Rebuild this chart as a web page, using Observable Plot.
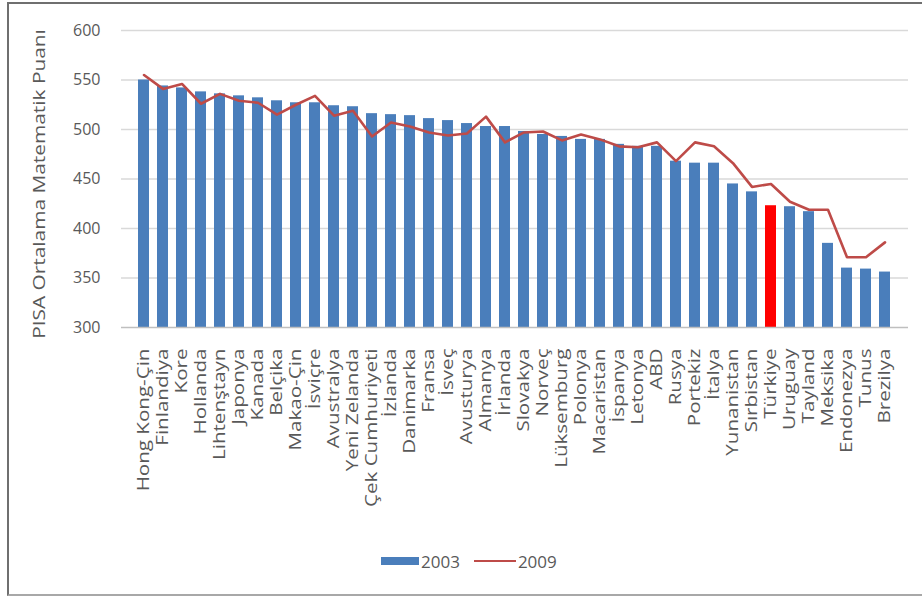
<!DOCTYPE html>
<html><head><meta charset="utf-8">
<script src="https://cdn.jsdelivr.net/npm/d3@7"></script>
<script src="https://cdn.jsdelivr.net/npm/@observablehq/plot@0.6"></script>
<style>
html,body{margin:0;padding:0;background:#fff;overflow:hidden;}
#wrap{position:relative;width:922px;height:599px;font-family:"Open Sans",sans-serif;}
#frame{position:absolute;left:7px;top:2px;width:940px;height:590px;border:2px solid #6f6f6f;border-bottom-color:#a8a8a8;pointer-events:none;}
#chart svg{display:block;}
#legend{display:flex;align-items:center;padding-left:381px;margin-top:10px;height:22px;font-size:17px;color:#595959;}
#legend .sw{display:inline-block;}
#legend .lab{margin-left:2px;margin-right:14px;}
</style></head><body>
<div id="wrap"><div id="frame"></div><div id="chart"></div><div id="legend"></div></div>
<script>
const countries = ["Hong Kong-Çin","Finlandiya","Kore","Hollanda","Lihtenştayn","Japonya","Kanada","Belçika","Makao-Çin","İsviçre","Avustralya","Yeni Zelanda","Çek Cumhuriyeti","İzlanda","Danimarka","Fransa","İsveç","Avusturya","Almanya","İrlanda","Slovakya","Norveç","Lüksemburg","Polonya","Macaristan","İspanya","Letonya","ABD","Rusya","Portekiz","İtalya","Yunanistan","Sırbistan","Türkiye","Uruguay","Tayland","Meksika","Endonezya","Tunus","Brezilya"];
const scores2003 = [550,544,542,538,536,534,532,529,527,527,524,523,516,515,514,511,509,506,503,503,498,495,493,490,490,485,483,483,468,466,466,445,437,423,422,417,385,360,359,356];
const scores2009 = [555,541,546,526,536,529,527,515,525,534,514,519,493,507,503,497,494,496,513,487,497,498,489,495,490,483,482,487,468,487,483,466,442,445,427,419,419,371,371,386];
const yTicks = [300,350,400,450,500,550,600];
const seriesNames = ["2003","2009"];
const highlight = "Türkiye";
const yTitle = "PISA Ortalama Matematik Puanı";
const colors = {bar:"#4a7ebb", highlight:"#ff0000", line:"#be4b48", grid:"#d9d9d9", base:"#bfbfbf", text:"#595959"};

const data = countries.map((c,i)=>({country:c, v2003:scores2003[i], v2009:scores2009[i]}));
const yMin = yTicks[0], yMax = yTicks[yTicks.length-1];

const chart = Plot.plot({
  width: 922, height: 540,
  marginLeft: 121, marginRight: 14, marginTop: 30, marginBottom: 213,
  style: {fontFamily: '"Open Sans", sans-serif', fontSize: "16px", color: colors.text, background: "transparent", overflow: "visible"},
  x: {domain: countries, paddingInner: 0.42, paddingOuter: 0.21, label: null},
  y: {domain: [yMin, yMax], ticks: yTicks, label: yTitle},
  marks: [
    Plot.ruleY(yTicks.slice(1), {stroke: colors.grid, strokeWidth: 1.3}),
    Plot.barY(data, {x: "country", y1: yMin, y2: "v2003", fill: d => d.country === highlight ? colors.highlight : colors.bar}),
    Plot.ruleY([yMin], {stroke: colors.base, strokeWidth: 1.3}),
    Plot.line(data, {x: "country", y: "v2009", stroke: colors.line, strokeWidth: 2.6}),
    Plot.axisY({ticks: yTicks, tickSize: 0, tickPadding: 21, label: yTitle, labelAnchor: "center", labelOffset: 88, labelArrow: "none", fontSize: 16}),
    Plot.axisX({tickSize: 0, tickPadding: 21, tickRotate: -90, label: null, fontSize: 16})
  ]
});
document.getElementById("chart").appendChild(chart);

// stretch the rotated texts along their direction, as in the reference (elongated glyphs)
const countrySet = new Set(countries);
let kx = 1.3, ky = 1.3;
chart.querySelectorAll("text").forEach(t => {
  const s = t.textContent.trim();
  if (s === countries[0]) { const L = t.getComputedTextLength(); if (L > 0) kx = 143 / L; }
  if (s === yTitle) { const L = t.getComputedTextLength(); if (L > 0) ky = 310 / L; }
});
chart.querySelectorAll("text").forEach(t => {
  const s = t.textContent.trim();
  const tr = t.getAttribute("transform") || "";
  if (countrySet.has(s)) t.setAttribute("transform", tr + ` scale(${kx.toFixed(3)},1)`);
  else if (s === yTitle) t.setAttribute("transform", tr + ` translate(-5,0) scale(${ky.toFixed(3)},1)`);
});

const legend = document.getElementById("legend");
seriesNames.forEach((name, i) => {
  const sw = document.createElement("span");
  sw.className = "sw";
  if (i === 0) { sw.style.width = "38px"; sw.style.height = "8px"; sw.style.background = colors.bar; }
  else { sw.style.width = "42px"; sw.style.height = "2.6px"; sw.style.background = colors.line; }
  const lab = document.createElement("span");
  lab.className = "lab";
  lab.textContent = name;
  legend.appendChild(sw);
  legend.appendChild(lab);
});
</script>
</body></html>
